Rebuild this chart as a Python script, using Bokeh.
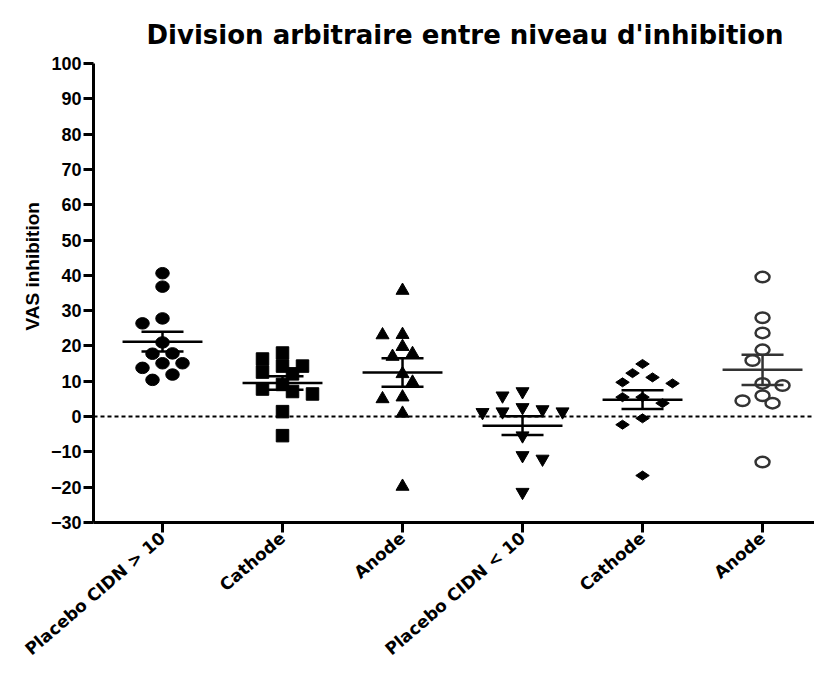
import numpy as np
from math import pi
from bokeh.plotting import figure
from bokeh.models import Range1d, FixedTicker, Span, Title
from bokeh.embed import file_html
from bokeh.resources import INLINE

# ---------------- data ----------------
categories = ["Placebo CIDN > 10", "Cathode", "Anode", "Placebo CIDN < 10", "Cathode", "Anode"]
placebo_hi = [40.6, 36.8, 27.8, 26.4, 21.0, 17.9, 17.8, 15.1, 15.1, 13.8, 11.9, 10.4]
cathode_hi = [18.0, 16.3, 14.3, 14.3, 12.6, 12.1, 9.1, 7.8, 6.4, 7.1, 1.4, -5.4]
anode_hi = [35.7, 23.2, 23.1, 19.8, 17.8, 17.0, 12.1, 9.7, 5.0, 5.5, 0.9, -19.8]
placebo_lo = [5.9, 7.1, 2.0, 1.4, 1.2, 1.4, 2.6, -5.4, -11.0, -12.0, -21.4]
cathode_lo = [14.9, 12.3, 11.1, 9.7, 9.4, 5.5, 5.5, 3.8, -0.5, -2.3, -16.7]
anode_lo = [39.5, 28.0, 23.7, 18.9, 15.9, 8.8, 9.4, 5.9, 4.5, 3.8, -12.9]
y_ticks = list(range(-30, 101, 10))

groups = [placebo_hi, cathode_hi, anode_hi, placebo_lo, cathode_lo, anode_lo]

# ---------------- layout ----------------
W, H = 814, 675
ML, MR, MT, MB = 93, 0, 63, 153
FW, FH = W - ML - MR, H - MT - MB
X0, X1 = -0.575, 5.433
Y0, Y1 = -30, 100
PX_X = FW / (X1 - X0)
PX_Y = FH / (Y1 - Y0)

p = figure(width=W, height=H, output_backend="svg", toolbar_location=None,
           x_range=Range1d(X0, X1), y_range=Range1d(Y0, Y1),
           min_border_left=ML, min_border_right=MR, min_border_top=MT, min_border_bottom=MB)
p.outline_line_color = None
p.xgrid.visible = False
p.ygrid.visible = False
p.background_fill_color = "white"
p.border_fill_color = "white"

# title
p.title.text = "Division arbitraire entre niveau d'inhibition"
p.title.align = "left"
p.title.offset = 53
p.title.text_font = "DejaVu Sans"
p.title.text_font_style = "bold"
p.title.text_font_size = "26px"
p.title.text_color = "black"
p.title.standoff = 27

# axes
for ax in (p.xaxis[0], p.yaxis[0]):
    ax.axis_line_width = 3
    ax.axis_line_color = "black"
    ax.major_tick_line_width = 3
    ax.major_tick_line_color = "black"
    ax.major_tick_in = 0
    ax.major_tick_out = 10
    ax.minor_tick_line_color = None
    ax.major_label_text_font_style = "bold"
    ax.major_label_text_color = "black"

p.yaxis.ticker = FixedTicker(ticks=y_ticks)
p.yaxis.major_label_text_font = "Liberation Sans"
p.yaxis.major_label_text_font_size = "18px"
p.yaxis.major_label_standoff = 2

p.xaxis.ticker = FixedTicker(ticks=list(range(len(categories))))
p.xaxis.major_label_overrides = {i: c for i, c in enumerate(categories)}
p.xaxis.major_label_orientation = 0.71
p.xaxis.major_label_text_font = "DejaVu Sans"
p.xaxis.major_label_text_font_size = "17px"
p.xaxis.major_label_standoff = 3

# y axis label (as a left-side title, so it can be placed off-centre like the reference)
ylab = Title(text="VAS inhibition", align="left", offset=192,
             text_font="Liberation Sans", text_font_style="bold",
             text_font_size="19px", text_color="black")
p.add_layout(ylab, "left")

# zero line
p.add_layout(Span(location=0, dimension="width", line_color="black",
                  line_width=2, line_dash="4 3"))


def swarm(vals, step_px=10.0, dist_px=12.0):
    vals = np.asarray(vals, dtype=float)
    order = np.argsort(-vals, kind="stable")
    placed = []
    offs = np.zeros(len(vals))
    nleft = nright = 0
    for i in order:
        yp = vals[i] * PX_Y
        chosen = 0.0
        for k in range(0, 20):
            if k == 0:
                cands = [0.0]
            else:
                cands = [-k * step_px, k * step_px] if nleft <= nright else [k * step_px, -k * step_px]
            found = None
            for xp in cands:
                if all((xp - a) ** 2 + (yp - b) ** 2 >= dist_px ** 2 for a, b in placed):
                    found = xp
                    break
            if found is not None:
                chosen = found
                break
        if chosen < 0:
            nleft += 1
        elif chosen > 0:
            nright += 1
        placed.append((chosen, yp))
        offs[i] = chosen / PX_X
    return offs


kinds = ["ellipse", "square", "triangle", "inverted_triangle", "diamond", "open_ellipse"]

for gi, vals in enumerate(groups):
    xs = gi + swarm(vals)
    ys = np.asarray(vals, dtype=float)
    kind = kinds[gi]
    col = "#333333" if kind == "open_ellipse" else "black"
    if kind == "ellipse":
        p.ellipse(xs, ys, width=13.5, height=11.5, width_units="screen", height_units="screen",
                  fill_color="black", line_color="black")
    elif kind == "open_ellipse":
        p.ellipse(xs, ys, width=14, height=10.5, width_units="screen", height_units="screen",
                  fill_color=None, line_color=col, line_width=2.5)
    elif kind == "diamond":
        p.scatter(xs, ys, marker="diamond", size=13.5, angle=pi / 2,
                  fill_color="black", line_color="black")
    elif kind == "square":
        p.scatter(xs, ys, marker="square", size=12.5, fill_color="black", line_color="black")
    else:
        p.scatter(xs, ys, marker=kind, size=13, fill_color="black", line_color="black")

    m = ys.mean()
    sem = ys.std(ddof=1) / np.sqrt(len(ys))
    p.segment([gi - 0.333], [m], [gi + 0.333], [m], line_color=col, line_width=2.5)
    p.segment([gi - 0.175, gi - 0.175, gi], [m + sem, m - sem, m - sem],
              [gi + 0.175, gi + 0.175, gi], [m + sem, m - sem, m + sem],
              line_color=col, line_width=2.5)

open("out.html", "w").write(file_html(p, INLINE))
